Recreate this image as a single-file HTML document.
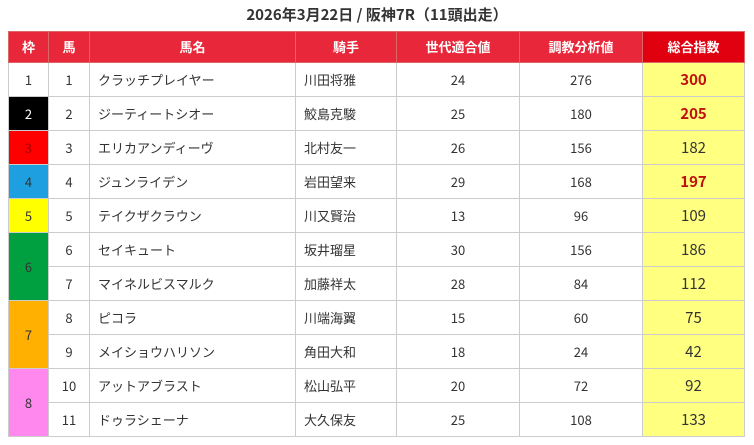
<!DOCTYPE html>
<html><head><meta charset="utf-8"><style>
body{margin:0;width:754px;height:445px;background:#fff;font-family:"Noto Sans CJK JP",sans-serif;overflow:hidden}
h1{margin:0;position:absolute;top:4px;left:0;width:754px;text-align:center;font-size:15px;font-weight:bold;color:#333;line-height:22px}
table{position:absolute;left:8px;top:31px;border-collapse:collapse;table-layout:fixed;width:736px}
th{background:#e8283a;color:#fff;height:30px;font-size:13px;font-weight:bold;border:1px solid #d66;padding:0;line-height:16px}
th.t{background:#e00010}
td{height:33px;border:1px solid #ccc;font-size:13px;color:#333;text-align:center;padding:0;line-height:16px}
td.l{text-align:left;padding-left:8px}
td.s{background:#ffff80;font-size:15px}
td.r{color:#c01010;font-weight:bold}
</style></head><body>
<h1>2026年3月22日 / 阪神7R（11頭出走）</h1>
<table>
<colgroup><col style="width:40px"><col style="width:41px"><col style="width:206px"><col style="width:101px"><col style="width:123px"><col style="width:123px"><col style="width:102px"></colgroup>
<tr><th>枠</th><th>馬</th><th>馬名</th><th>騎手</th><th>世代適合値</th><th>調教分析値</th><th class="t">総合指数</th></tr>
<tr><td>1</td><td>1</td><td class="l">クラッチプレイヤー</td><td class="l">川田将雅</td><td>24</td><td>276</td><td class="s r">300</td></tr>
<tr><td style="background:#000;color:#fff">2</td><td>2</td><td class="l">ジーティートシオー</td><td class="l">鮫島克駿</td><td>25</td><td>180</td><td class="s r">205</td></tr>
<tr><td style="background:#f00;color:#a00">3</td><td>3</td><td class="l">エリカアンディーヴ</td><td class="l">北村友一</td><td>26</td><td>156</td><td class="s">182</td></tr>
<tr><td style="background:#1ea0e0">4</td><td>4</td><td class="l">ジュンライデン</td><td class="l">岩田望来</td><td>29</td><td>168</td><td class="s r">197</td></tr>
<tr><td style="background:#ffff00">5</td><td>5</td><td class="l">テイクザクラウン</td><td class="l">川又賢治</td><td>13</td><td>96</td><td class="s">109</td></tr>
<tr><td rowspan="2" style="background:#00a040">6</td><td>6</td><td class="l">セイキュート</td><td class="l">坂井瑠星</td><td>30</td><td>156</td><td class="s">186</td></tr>
<tr><td>7</td><td class="l">マイネルビスマルク</td><td class="l">加藤祥太</td><td>28</td><td>84</td><td class="s">112</td></tr>
<tr><td rowspan="2" style="background:#ffb000">7</td><td>8</td><td class="l">ピコラ</td><td class="l">川端海翼</td><td>15</td><td>60</td><td class="s">75</td></tr>
<tr><td>9</td><td class="l">メイショウハリソン</td><td class="l">角田大和</td><td>18</td><td>24</td><td class="s">42</td></tr>
<tr><td rowspan="2" style="background:#ff88ee">8</td><td>10</td><td class="l">アットアブラスト</td><td class="l">松山弘平</td><td>20</td><td>72</td><td class="s">92</td></tr>
<tr><td>11</td><td class="l">ドゥラシェーナ</td><td class="l">大久保友</td><td>25</td><td>108</td><td class="s">133</td></tr>
</table>
</body></html>
